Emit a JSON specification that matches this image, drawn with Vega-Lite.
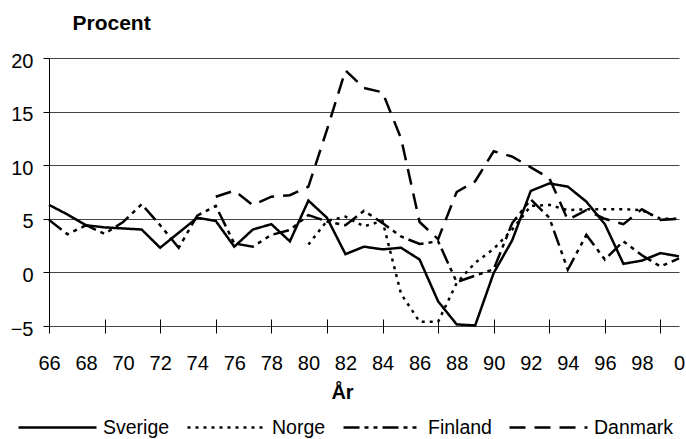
{
  "$schema": "https://vega.github.io/schema/vega-lite/v6.json",
  "autosize": "none",
  "width": 630,
  "height": 268,
  "padding": {"left": 49, "top": 58, "right": 7, "bottom": 113},
  "background": "white",
  "config": {
    "font": "Liberation Sans",
    "view": {"stroke": null}
  },
  "datasets": {
    "serier": [
      {"land": "Sverige", "ar": 66, "v": 6.3}, {"land": "Sverige", "ar": 67, "v": 5.4}, {"land": "Sverige", "ar": 68, "v": 4.4}, {"land": "Sverige", "ar": 69, "v": 4.2}, {"land": "Sverige", "ar": 70, "v": 4.1}, {"land": "Sverige", "ar": 71, "v": 4.0}, {"land": "Sverige", "ar": 72, "v": 2.3}, {"land": "Sverige", "ar": 73, "v": 3.7}, {"land": "Sverige", "ar": 74, "v": 5.1}, {"land": "Sverige", "ar": 75, "v": 4.8}, {"land": "Sverige", "ar": 76, "v": 2.4}, {"land": "Sverige", "ar": 77, "v": 4.0}, {"land": "Sverige", "ar": 78, "v": 4.5}, {"land": "Sverige", "ar": 79, "v": 2.9}, {"land": "Sverige", "ar": 80, "v": 6.7}, {"land": "Sverige", "ar": 81, "v": 5.1}, {"land": "Sverige", "ar": 82, "v": 1.7}, {"land": "Sverige", "ar": 83, "v": 2.4}, {"land": "Sverige", "ar": 84, "v": 2.15}, {"land": "Sverige", "ar": 85, "v": 2.3}, {"land": "Sverige", "ar": 86, "v": 1.2}, {"land": "Sverige", "ar": 87, "v": -2.7}, {"land": "Sverige", "ar": 88, "v": -4.85}, {"land": "Sverige", "ar": 89, "v": -4.95}, {"land": "Sverige", "ar": 90, "v": -0.05}, {"land": "Sverige", "ar": 91, "v": 3.0}, {"land": "Sverige", "ar": 92, "v": 7.6}, {"land": "Sverige", "ar": 93, "v": 8.3}, {"land": "Sverige", "ar": 94, "v": 8.0}, {"land": "Sverige", "ar": 95, "v": 6.6}, {"land": "Sverige", "ar": 96, "v": 4.5}, {"land": "Sverige", "ar": 97, "v": 0.8}, {"land": "Sverige", "ar": 98, "v": 1.1}, {"land": "Sverige", "ar": 99, "v": 1.8}, {"land": "Sverige", "ar": 100, "v": 1.5},
      {"land": "Norge", "ar": 80, "v": 2.6}, {"land": "Norge", "ar": 81, "v": 4.8}, {"land": "Norge", "ar": 82, "v": 5.2}, {"land": "Norge", "ar": 83, "v": 4.3}, {"land": "Norge", "ar": 84, "v": 4.8}, {"land": "Norge", "ar": 85, "v": -2.0}, {"land": "Norge", "ar": 86, "v": -4.6}, {"land": "Norge", "ar": 87, "v": -4.6}, {"land": "Norge", "ar": 88, "v": -1.0}, {"land": "Norge", "ar": 89, "v": 0.9}, {"land": "Norge", "ar": 90, "v": 2.2}, {"land": "Norge", "ar": 91, "v": 4.0}, {"land": "Norge", "ar": 92, "v": 6.2}, {"land": "Norge", "ar": 93, "v": 6.3}, {"land": "Norge", "ar": 94, "v": 5.8}, {"land": "Norge", "ar": 95, "v": 5.9}, {"land": "Norge", "ar": 96, "v": 5.9}, {"land": "Norge", "ar": 97, "v": 5.9}, {"land": "Norge", "ar": 98, "v": 5.8}, {"land": "Norge", "ar": 99, "v": 5.0}, {"land": "Norge", "ar": 100, "v": 5.0},
      {"land": "Finland", "ar": 66, "v": 4.9}, {"land": "Finland", "ar": 67, "v": 3.55}, {"land": "Finland", "ar": 68, "v": 4.4}, {"land": "Finland", "ar": 69, "v": 3.6}, {"land": "Finland", "ar": 70, "v": 4.7}, {"land": "Finland", "ar": 71, "v": 6.35}, {"land": "Finland", "ar": 72, "v": 4.4}, {"land": "Finland", "ar": 73, "v": 2.3}, {"land": "Finland", "ar": 74, "v": 5.3}, {"land": "Finland", "ar": 75, "v": 6.2}, {"land": "Finland", "ar": 76, "v": 2.7}, {"land": "Finland", "ar": 77, "v": 2.4}, {"land": "Finland", "ar": 78, "v": 3.5}, {"land": "Finland", "ar": 79, "v": 3.95}, {"land": "Finland", "ar": 80, "v": 5.35}, {"land": "Finland", "ar": 81, "v": 4.75}, {"land": "Finland", "ar": 82, "v": 4.4}, {"land": "Finland", "ar": 83, "v": 5.75}, {"land": "Finland", "ar": 84, "v": 4.6}, {"land": "Finland", "ar": 85, "v": 3.35}, {"land": "Finland", "ar": 86, "v": 2.65}, {"land": "Finland", "ar": 87, "v": 2.9}, {"land": "Finland", "ar": 88, "v": -0.9}, {"land": "Finland", "ar": 89, "v": -0.3}, {"land": "Finland", "ar": 90, "v": 0.3}, {"land": "Finland", "ar": 91, "v": 4.6}, {"land": "Finland", "ar": 92, "v": 6.8}, {"land": "Finland", "ar": 93, "v": 5.1}, {"land": "Finland", "ar": 94, "v": 0.25}, {"land": "Finland", "ar": 95, "v": 3.5}, {"land": "Finland", "ar": 96, "v": 1.2}, {"land": "Finland", "ar": 97, "v": 2.9}, {"land": "Finland", "ar": 98, "v": 1.6}, {"land": "Finland", "ar": 99, "v": 0.55}, {"land": "Finland", "ar": 100, "v": 1.3},
      {"land": "Danmark", "ar": 75, "v": 7.06}, {"land": "Danmark", "ar": 76, "v": 7.62}, {"land": "Danmark", "ar": 77, "v": 6.28}, {"land": "Danmark", "ar": 78, "v": 7.06}, {"land": "Danmark", "ar": 79, "v": 7.2}, {"land": "Danmark", "ar": 80, "v": 8.0}, {"land": "Danmark", "ar": 81, "v": 13.3}, {"land": "Danmark", "ar": 82, "v": 18.85}, {"land": "Danmark", "ar": 83, "v": 17.2}, {"land": "Danmark", "ar": 84, "v": 16.8}, {"land": "Danmark", "ar": 85, "v": 12.5}, {"land": "Danmark", "ar": 86, "v": 4.7}, {"land": "Danmark", "ar": 87, "v": 3.1}, {"land": "Danmark", "ar": 88, "v": 7.5}, {"land": "Danmark", "ar": 89, "v": 8.5}, {"land": "Danmark", "ar": 90, "v": 11.3}, {"land": "Danmark", "ar": 91, "v": 10.8}, {"land": "Danmark", "ar": 92, "v": 9.8}, {"land": "Danmark", "ar": 93, "v": 8.8}, {"land": "Danmark", "ar": 94, "v": 4.9}, {"land": "Danmark", "ar": 95, "v": 5.8}, {"land": "Danmark", "ar": 96, "v": 5.0}, {"land": "Danmark", "ar": 97, "v": 4.5}, {"land": "Danmark", "ar": 98, "v": 5.9}, {"land": "Danmark", "ar": 99, "v": 4.9}, {"land": "Danmark", "ar": 100, "v": 5.0}
    ]
  },
  "data": {"name": "serier"},
  "mark": {"type": "line", "strokeWidth": 2.5, "color": "black", "strokeJoin": "miter", "strokeCap": "butt"},
  "encoding": {
    "x": {
      "field": "ar",
      "type": "quantitative",
      "scale": {"domain": [66, 100], "nice": false, "zero": false},
      "axis": {
        "title": "År",
        "titleFontSize": 20,
        "titleFontWeight": "bold",
        "titleColor": "black",
        "titleX": 293,
        "titleY": 73,
        "titleBaseline": "middle",
        "titleAlign": "center",
        "values": [66, 68, 69, 70, 72, 74, 75, 76, 78, 80, 81, 82, 84, 86, 87, 88, 90, 92, 93, 94, 96, 98, 99, 100],
        "labelExpr": "datum.value % 2 == 0 ? (datum.value == 100 ? '0' : datum.label) : ''",
        "tickOpacity": {"condition": {"test": "(datum.value - 66) % 3 == 0", "value": 1}, "value": 0},
        "tickSize": 14,
        "tickColor": "black",
        "tickWidth": 1,
        "offset": -7,
        "domain": false,
        "grid": false,
        "labelFontSize": 20,
        "labelColor": "black",
        "labelBaseline": "middle",
        "labelPadding": 30,
        "labelOverlap": false,
        "labelFlush": false,
        "labelBound": false
      }
    },
    "y": {
      "field": "v",
      "type": "quantitative",
      "scale": {"domain": [-5, 20], "nice": false, "zero": false},
      "axis": {
        "title": "Procent",
        "titleAngle": 0,
        "titleFontSize": 21,
        "titleFontWeight": "bold",
        "titleColor": "black",
        "titleAlign": "left",
        "titleBaseline": "middle",
        "titleX": 23,
        "titleY": -35,
        "values": [-5, 0, 5, 10, 15, 20],
        "tickSize": 6,
        "tickColor": "black",
        "domainColor": "black",
        "domainWidth": 1,
        "grid": true,
        "gridColor": "#444444",
        "gridWidth": 1,
        "gridOpacity": 1,
        "labelFontSize": 20,
        "labelColor": "black",
        "labelPadding": 10,
        "labelOffset": 3,
        "labelBaseline": "middle"
      }
    },
    "strokeDash": {
      "field": "land",
      "type": "nominal",
      "scale": {
        "domain": ["Sverige", "Norge", "Finland", "Danmark"],
        "range": [[1, 0], [3, 5], [16, 5, 4, 5, 4, 5], [16, 9]]
      },
      "legend": {
        "title": null,
        "orient": "none",
        "direction": "horizontal",
        "legendX": -32,
        "legendY": 329,
        "symbolType": "stroke",
        "symbolSize": 6084,
        "symbolStrokeWidth": 2.5,
        "symbolStrokeColor": "black",
        "labelFontSize": 19.5,
        "labelColor": "black",
        "labelOffset": 5,
        "columnPadding": 12
      }
    }
  }
}
